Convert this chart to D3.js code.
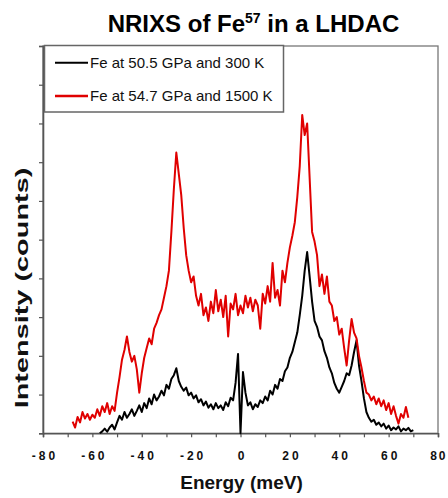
<!DOCTYPE html>
<html>
<head>
<meta charset="utf-8">
<script src="https://cdn.jsdelivr.net/npm/d3@7"></script>
<style>
  html, body { margin: 0; padding: 0; background: #fff; }
  svg { display: block; }
  text { font-family: Arial, "Liberation Sans", sans-serif; }
</style>
</head>
<body>
<svg id="chart" width="448" height="498"></svg>
<script>
// ---- Data ----
const titleMain = "NRIXS of Fe";
const titleSup = "57";
const titleRest = " in a LHDAC";
const xTitle = "Energy (meV)";
const yTitle = "Intensity (counts)";
const seriesNames = ["Fe at 50.5 GPa and 300 K", "Fe at 54.7 GPa and 1500 K"];
const seriesColors = ["#000000", "#e00000"];

const xTickValues = [-80, -70, -60, -50, -40, -30, -20, -10, 0, 10, 20, 30, 40, 50, 60, 70, 80];
const xTickLabels = ["-80", "", "-60", "", "-40", "", "-20", "", "0", "", "20", "", "40", "", "60", "", "80"];
const yTickValues = [0, 1, 2, 3, 4, 5, 6, 7, 8, 9, 10];

// Fe 50.5 GPa, 300 K : energies -57 .. 70 meV (1 meV step)
const energy300 = [-57,-56,-55,-54,-53,-52,-51,-50,-49,-48,-47,-46,-45,-44,-43,-42,-41,-40,-39,-38,-37,-36,-35,-34,-33,-32,-31,-30,-29,-28,-27,-26,-25,-24,-23,-22,-21,-20,-19,-18,-17,-16,-15,-14,-13,-12,-11,-10,-9,-8,-7,-6,-5,-4,-3,-2,-1,0,1,2,3,4,5,6,7,8,9,10,11,12,13,14,15,16,17,18,19,20,21,22,23,24,25,26,27,28,29,30,31,32,33,34,35,36,37,38,39,40,41,42,43,44,45,46,47,48,49,50,51,52,53,54,55,56,57,58,59,60,61,62,63,64,65,66,67,68,69,70];
const intensity300 = [0.00,0.05,0.12,0.04,0.15,0.22,0.10,0.28,0.45,0.35,0.55,0.40,0.50,0.62,0.45,0.58,0.72,0.55,0.78,0.65,0.90,0.75,1.00,0.85,0.95,1.10,0.98,1.25,1.15,1.40,1.50,1.68,1.35,1.20,1.10,1.18,0.98,1.05,0.90,0.98,0.80,0.88,0.72,0.82,0.66,0.75,0.62,0.78,0.65,0.72,0.60,0.80,0.70,0.92,0.85,1.30,2.05,0.00,1.58,1.05,0.72,0.80,0.62,0.75,0.68,0.85,0.78,0.95,0.85,1.10,1.00,1.25,1.15,1.40,1.35,1.60,1.70,1.95,2.10,2.35,2.60,3.05,3.55,4.20,4.68,4.05,3.40,2.90,2.75,2.50,2.40,2.12,1.95,1.70,1.55,1.30,1.15,1.05,1.20,1.35,1.55,1.50,1.75,2.10,2.40,1.75,1.35,0.90,0.55,0.40,0.30,0.35,0.22,0.28,0.18,0.25,0.12,0.20,0.08,0.15,0.10,0.18,0.05,0.12,0.08,0.14,0.05,0.08];

// Fe 54.7 GPa, 1500 K : energies -68 .. 68 meV (1 meV step)
const energy1500 = [-68,-67,-66,-65,-64,-63,-62,-61,-60,-59,-58,-57,-56,-55,-54,-53,-52,-51,-50,-49,-48,-47,-46,-45,-44,-43,-42,-41,-40,-39,-38,-37,-36,-35,-34,-33,-32,-31,-30,-29,-28,-27,-26,-25,-24,-23,-22,-21,-20,-19,-18,-17,-16,-15,-14,-13,-12,-11,-10,-9,-8,-7,-6,-5,-4,-3,-2,-1,0,1,2,3,4,5,6,7,8,9,10,11,12,13,14,15,16,17,18,19,20,21,22,23,24,25,26,27,28,29,30,31,32,33,34,35,36,37,38,39,40,41,42,43,44,45,46,47,48,49,50,51,52,53,54,55,56,57,58,59,60,61,62,63,64,65,66,67,68];
const intensity1500 = [0.30,0.15,0.42,0.28,0.55,0.38,0.50,0.35,0.48,0.40,0.62,0.45,0.70,0.55,0.78,0.50,0.70,0.58,1.05,1.45,1.90,2.15,2.50,2.10,1.85,2.00,1.65,1.05,1.55,1.95,2.20,2.45,2.30,2.70,2.85,3.05,3.20,3.50,3.80,4.20,5.20,6.30,7.25,6.70,6.15,5.30,4.60,4.20,3.90,4.05,3.55,3.30,3.60,3.05,3.25,2.90,3.40,3.10,3.70,3.15,3.45,3.00,3.55,2.50,3.35,3.20,3.60,3.05,3.30,3.10,3.55,3.25,3.50,3.15,3.45,3.30,2.70,3.60,3.35,3.80,3.40,4.40,3.50,3.70,3.30,4.20,3.90,4.40,4.80,5.10,5.45,6.10,6.90,8.22,7.70,8.00,6.60,5.20,4.95,4.60,3.80,4.10,3.60,4.05,3.40,3.30,2.90,3.00,2.55,2.70,2.20,1.75,2.40,2.95,2.60,2.45,2.00,1.70,1.35,1.05,1.00,0.85,0.95,0.75,0.90,0.70,0.85,0.60,0.78,0.50,0.70,0.45,0.25,0.50,0.40,0.68,0.40];

// ---- Layout ----
const svg = d3.select("#chart");
const plot = { left: 43, right: 438, top: 46, bottom: 433.3 };

const x = d3.scaleLinear().domain([-80, 80]).range([plot.left, plot.right]);
const y = d3.scaleLinear().domain([0, 10]).range([plot.bottom, plot.top]);

const axisColor = "#555";

// frame
svg.append("rect")
  .attr("x", plot.left).attr("y", plot.top)
  .attr("width", plot.right - plot.left).attr("height", plot.bottom - plot.top)
  .attr("fill", "none").attr("stroke", "#777").attr("stroke-width", 1.3);

// x axis
const xAxis = d3.axisBottom(x)
  .tickValues(xTickValues)
  .tickSize(4)
  .tickFormat((d, i) => xTickLabels[i]);
const gx = svg.append("g")
  .attr("transform", `translate(0,${plot.bottom})`)
  .call(xAxis);
gx.select(".domain").attr("stroke", axisColor).attr("stroke-width", 1.6);
gx.selectAll(".tick line").attr("stroke", axisColor).attr("stroke-width", 1.2);
gx.selectAll(".tick text")
  .attr("y", 18)
  .attr("dx", 1.5)
  .attr("font-size", 12)
  .attr("font-weight", "bold")
  .attr("letter-spacing", "3px")
  .attr("fill", "#111")
  .attr("font-family", "Arial, 'Liberation Sans', sans-serif");
// keep the last label inside the picture
gx.selectAll(".tick text").filter(d => d === 80)
  .attr("text-anchor", "end")
  .attr("letter-spacing", "2px")
  .attr("dx", 0)
  .attr("x", 9);

// y axis
const yAxis = d3.axisLeft(y).tickValues(yTickValues).tickSize(4).tickFormat("");
const gy = svg.append("g")
  .attr("transform", `translate(${plot.left},0)`)
  .call(yAxis);
gy.select(".domain").attr("stroke", axisColor).attr("stroke-width", 1.6);
gy.selectAll(".tick line").attr("stroke", axisColor).attr("stroke-width", 1.2);

// series lines
const line = d3.line().x(d => x(d[0])).y(d => y(d[1]));
const data300 = energy300.map((e, i) => [e, intensity300[i]]);
const data1500 = energy1500.map((e, i) => [e, intensity1500[i]]);

svg.append("path").datum(data300)
  .attr("d", line).attr("fill", "none")
  .attr("stroke", seriesColors[0]).attr("stroke-width", 2).attr("stroke-linejoin", "round");
svg.append("path").datum(data1500)
  .attr("d", line).attr("fill", "none")
  .attr("stroke", seriesColors[1]).attr("stroke-width", 2).attr("stroke-linejoin", "round");

// legend
const lg = svg.append("g");
lg.append("rect")
  .attr("x", 44.5).attr("y", 45.5).attr("width", 239).attr("height", 66.5)
  .attr("fill", "#fff").attr("stroke", "#666").attr("stroke-width", 1.5);
const legendRows = [62.7, 96];
seriesNames.forEach((name, i) => {
  lg.append("line")
    .attr("x1", 55).attr("x2", 88)
    .attr("y1", legendRows[i]).attr("y2", legendRows[i])
    .attr("stroke", seriesColors[i]).attr("stroke-width", i === 0 ? 2 : 2.5);
  lg.append("text")
    .attr("x", 90).attr("y", legendRows[i] + 5.3)
    .attr("font-size", 15).attr("fill", "#111")
    .text(name);
});

// title
const t = svg.append("text")
  .attr("x", 253.5).attr("y", 31.5)
  .attr("text-anchor", "middle")
  .attr("font-size", 24).attr("font-weight", "bold").attr("fill", "#000");
t.append("tspan").text(titleMain);
t.append("tspan").attr("font-size", 14).attr("dy", -9).text(titleSup);
t.append("tspan").attr("dy", 9).text(titleRest);

// x title
svg.append("text")
  .attr("x", 241.5).attr("y", 489)
  .attr("text-anchor", "middle")
  .attr("font-size", 19).attr("font-weight", "bold").attr("fill", "#111")
  .text(xTitle);

// y title
svg.append("text")
  .attr("transform", "translate(28,288) rotate(-90) scale(1.52,1)")
  .attr("text-anchor", "middle")
  .attr("font-size", 19).attr("font-weight", "bold").attr("fill", "#111")
  .text(yTitle);
</script>
</body>
</html>
